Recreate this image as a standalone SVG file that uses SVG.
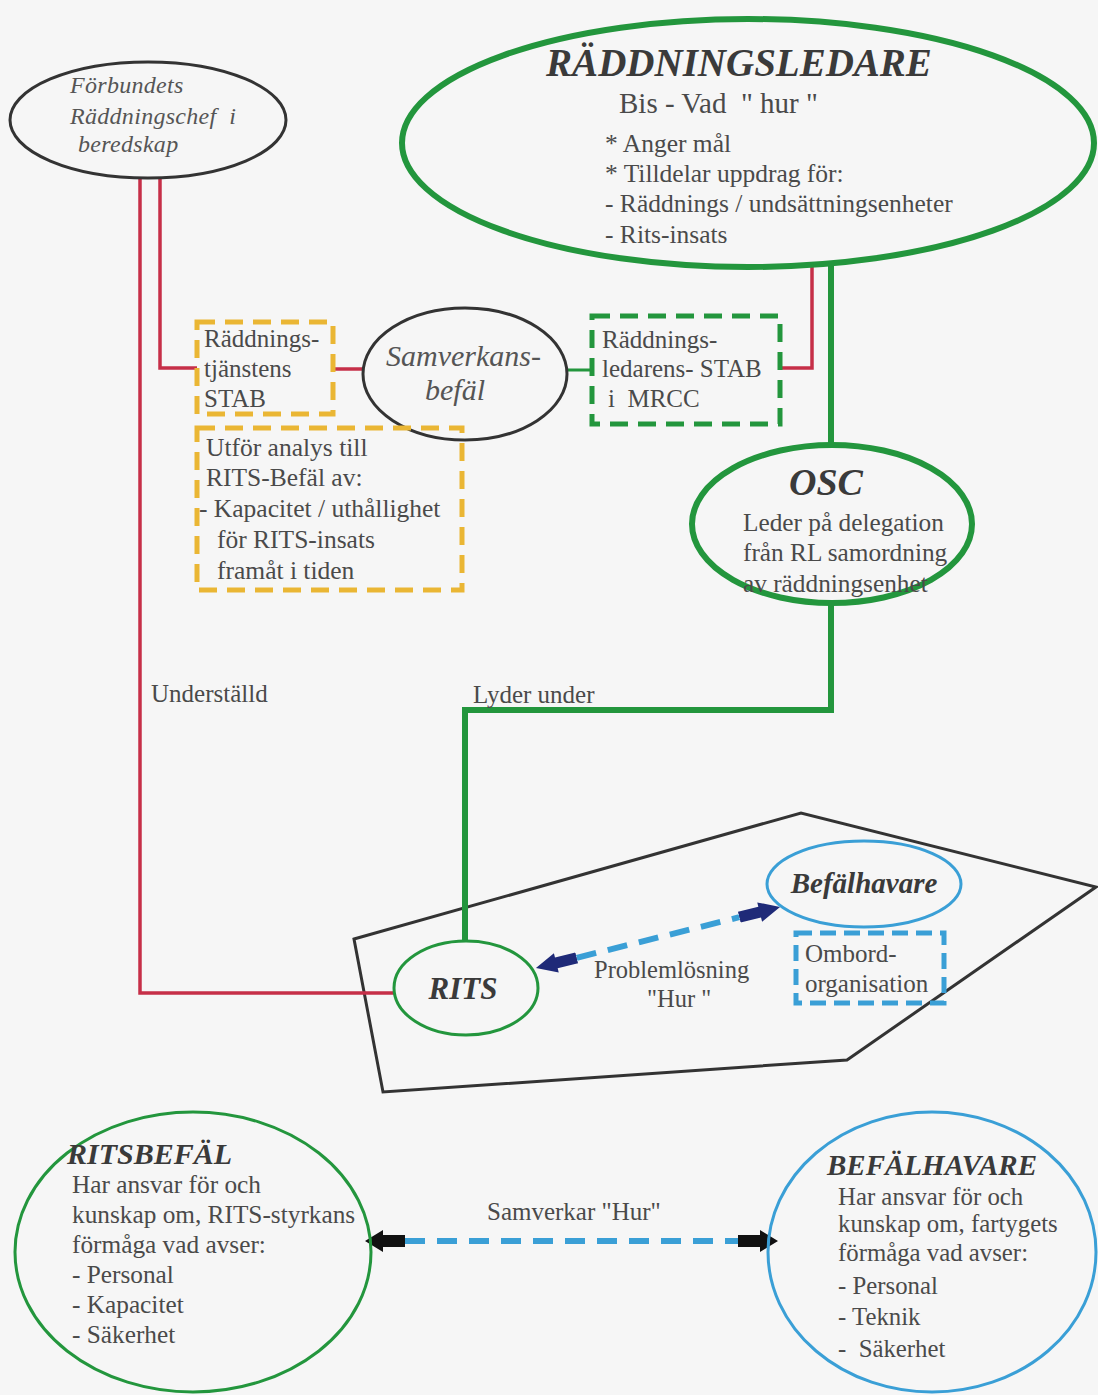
<svg xmlns="http://www.w3.org/2000/svg" width="1098" height="1395" viewBox="0 0 1098 1395">
<defs>
<style>
.t{font-family:"Liberation Serif","Times New Roman",serif;fill:#4a4a4a;}
.it{font-style:italic;fill:#555}
.bi{font-style:italic;font-weight:bold;fill:#3a3a3a}
.red{stroke:#c62f48;stroke-width:3.5;fill:none}
.gthick{stroke:#23963d;stroke-width:6;fill:none}
.gthin{stroke:#23963d;stroke-width:3;fill:none}
.blk{stroke:#333;stroke-width:3;fill:none}
.ydash{stroke:#eab634;stroke-width:5;fill:none;stroke-dasharray:18 10}
.gdash{stroke:#23963d;stroke-width:5;fill:none;stroke-dasharray:18 10}
.bdash{stroke:#3a9fd6;stroke-width:5;fill:none;stroke-dasharray:16 8}
.blue{stroke:#3a9fd6;stroke-width:3;fill:none}
.bconn{stroke:#3a9fd6;stroke-width:6;fill:none;stroke-dasharray:20 12}
</style>
<marker id="navy" markerUnits="userSpaceOnUse" markerWidth="42" markerHeight="20" viewBox="0 0 42 20" refX="0" refY="10" orient="auto-start-reverse"><path d="M0,4.5 H21 V0 L42,10 L21,20 V15.5 H0 Z" fill="#1f2a78"/></marker>
<marker id="black" markerUnits="userSpaceOnUse" markerWidth="40" markerHeight="22" viewBox="0 0 40 22" refX="0" refY="11" orient="auto-start-reverse"><path d="M0,5 H22 V0 L40,11 L22,22 V17 H0 Z" fill="#111"/></marker>
</defs>
<rect width="1098" height="1395" fill="#f6f6f6"/>
<polygon id="ship" points="354,939 801,813 1096,887 847,1060 383,1092" class="blk"/>
<g id="connectors">
<polyline class="red" points="140,178 140,993 394,993"/>
<polyline class="red" points="160,178 160,368 197,368"/>
<line class="red" x1="333" y1="369" x2="364" y2="369"/>
<line class="gthin" x1="568" y1="370" x2="592" y2="370"/>
<polyline class="red" points="780,368 812,368 812,266"/>
<line class="gthick" x1="831" y1="266" x2="831" y2="445"/>
<polyline class="gthick" points="831,602 831,710 465,710 465,941"/>
<line class="bconn" x1="576.7" y1="957.8" x2="739.3" y2="917.2" marker-start="url(#navy)" marker-end="url(#navy)"/>
<line class="bconn" x1="405" y1="1241" x2="738" y2="1241" marker-start="url(#black)" marker-end="url(#black)"/>
<text class="t" x="151" y="702" font-size="25">Underställd</text>
<text class="t" x="473" y="703" font-size="25">Lyder under</text>
<text class="t" x="594" y="978" font-size="24.5">Problemlösning</text>
<text class="t" x="647" y="1007" font-size="24.5" xml:space="preserve">"Hur "</text>
<text class="t" x="487" y="1220" font-size="25">Samverkar "Hur"</text>
</g>
<g id="forbundets">
<ellipse class="blk" cx="148" cy="120" rx="138" ry="58"/>
<text class="t it" font-size="24" letter-spacing="0.3" xml:space="preserve"><tspan x="70" y="93">Förbundets</tspan><tspan x="70" y="124">Räddningschef  i</tspan><tspan x="78" y="152">beredskap</tspan></text>
</g>
<g id="raddningsledare">
<ellipse class="gthick" cx="748" cy="143" rx="346" ry="124"/>
<text class="t bi" x="739" y="76" font-size="39" text-anchor="middle">RÄDDNINGSLEDARE</text>
<text class="t" x="619" y="113" font-size="29" xml:space="preserve">Bis - Vad  " hur "</text>
<text class="t" font-size="25.5"><tspan x="605" y="152">* Anger mål</tspan><tspan x="605" y="182">* Tilldelar uppdrag för:</tspan><tspan x="605" y="212">- Räddnings / undsättningsenheter</tspan><tspan x="605" y="243">- Rits-insats</tspan></text>
</g>
<g id="rtj-stab">
<rect class="ydash" x="197" y="322" width="136" height="92"/>
<text class="t" font-size="25"><tspan x="204" y="347">Räddnings-</tspan><tspan x="204" y="377">tjänstens</tspan><tspan x="204" y="407">STAB</tspan></text>
</g>
<g id="samverkans">
<ellipse class="blk" cx="465" cy="374" rx="102" ry="66"/>
<text class="t it" font-size="30"><tspan x="386" y="366">Samverkans-</tspan><tspan x="425" y="400">befäl</tspan></text>
</g>
<g id="rl-stab">
<rect class="gdash" x="592" y="316" width="188" height="108"/>
<text class="t" font-size="25" xml:space="preserve"><tspan x="602" y="348">Räddnings-</tspan><tspan x="602" y="377">ledarens- STAB</tspan><tspan x="608" y="407">i  MRCC</tspan></text>
</g>
<g id="analys">
<rect class="ydash" x="197" y="428" width="265" height="162"/>
<text class="t" font-size="25.5"><tspan x="206" y="456">Utför analys till</tspan><tspan x="206" y="486">RITS-Befäl av:</tspan><tspan x="199" y="517">- Kapacitet / uthållighet</tspan><tspan x="217" y="548">för RITS-insats</tspan><tspan x="217" y="579">framåt i tiden</tspan></text>
</g>
<g id="osc">
<ellipse class="gthick" cx="832" cy="524" rx="140" ry="79"/>
<text class="t bi" x="826" y="495" font-size="38" text-anchor="middle">OSC</text>
<text class="t" font-size="25.3"><tspan x="743" y="531">Leder på delegation</tspan><tspan x="743" y="561">från RL samordning</tspan><tspan x="743" y="592">av räddningsenhet</tspan></text>
</g>
<g id="rits">
<ellipse class="gthin" cx="466" cy="988" rx="72" ry="47"/>
<text class="t bi" x="463" y="999" font-size="31" text-anchor="middle">RITS</text>
</g>
<g id="befalhavare-small">
<ellipse class="blue" cx="864" cy="884" rx="97" ry="43"/>
<text class="t bi" x="864" y="893" font-size="29" text-anchor="middle">Befälhavare</text>
</g>
<g id="ombord">
<rect class="bdash" x="796" y="933" width="148" height="70"/>
<text class="t" font-size="25"><tspan x="805" y="962">Ombord-</tspan><tspan x="805" y="992">organisation</tspan></text>
</g>
<g id="ritsbefal">
<ellipse class="gthin" cx="193" cy="1252" rx="178" ry="140"/>
<text class="t bi" x="67" y="1164" font-size="30">RITSBEFÄL</text>
<text class="t" font-size="25.3"><tspan x="72" y="1193">Har ansvar för och</tspan><tspan x="72" y="1223">kunskap om, RITS-styrkans</tspan><tspan x="72" y="1253">förmåga vad avser:</tspan><tspan x="72" y="1283">- Personal</tspan><tspan x="72" y="1313">- Kapacitet</tspan><tspan x="72" y="1343">- Säkerhet</tspan></text>
</g>
<g id="befalhavare-big">
<ellipse class="blue" cx="932" cy="1252" rx="164" ry="140"/>
<text class="t bi" x="827" y="1175" font-size="29">BEFÄLHAVARE</text>
<text class="t" font-size="24.8" xml:space="preserve"><tspan x="838" y="1205">Har ansvar för och</tspan><tspan x="838" y="1232">kunskap om, fartygets</tspan><tspan x="838" y="1261">förmåga vad avser:</tspan><tspan x="838" y="1294">- Personal</tspan><tspan x="838" y="1325">- Teknik</tspan><tspan x="838" y="1357">-  Säkerhet</tspan></text>
</g>
</svg>
